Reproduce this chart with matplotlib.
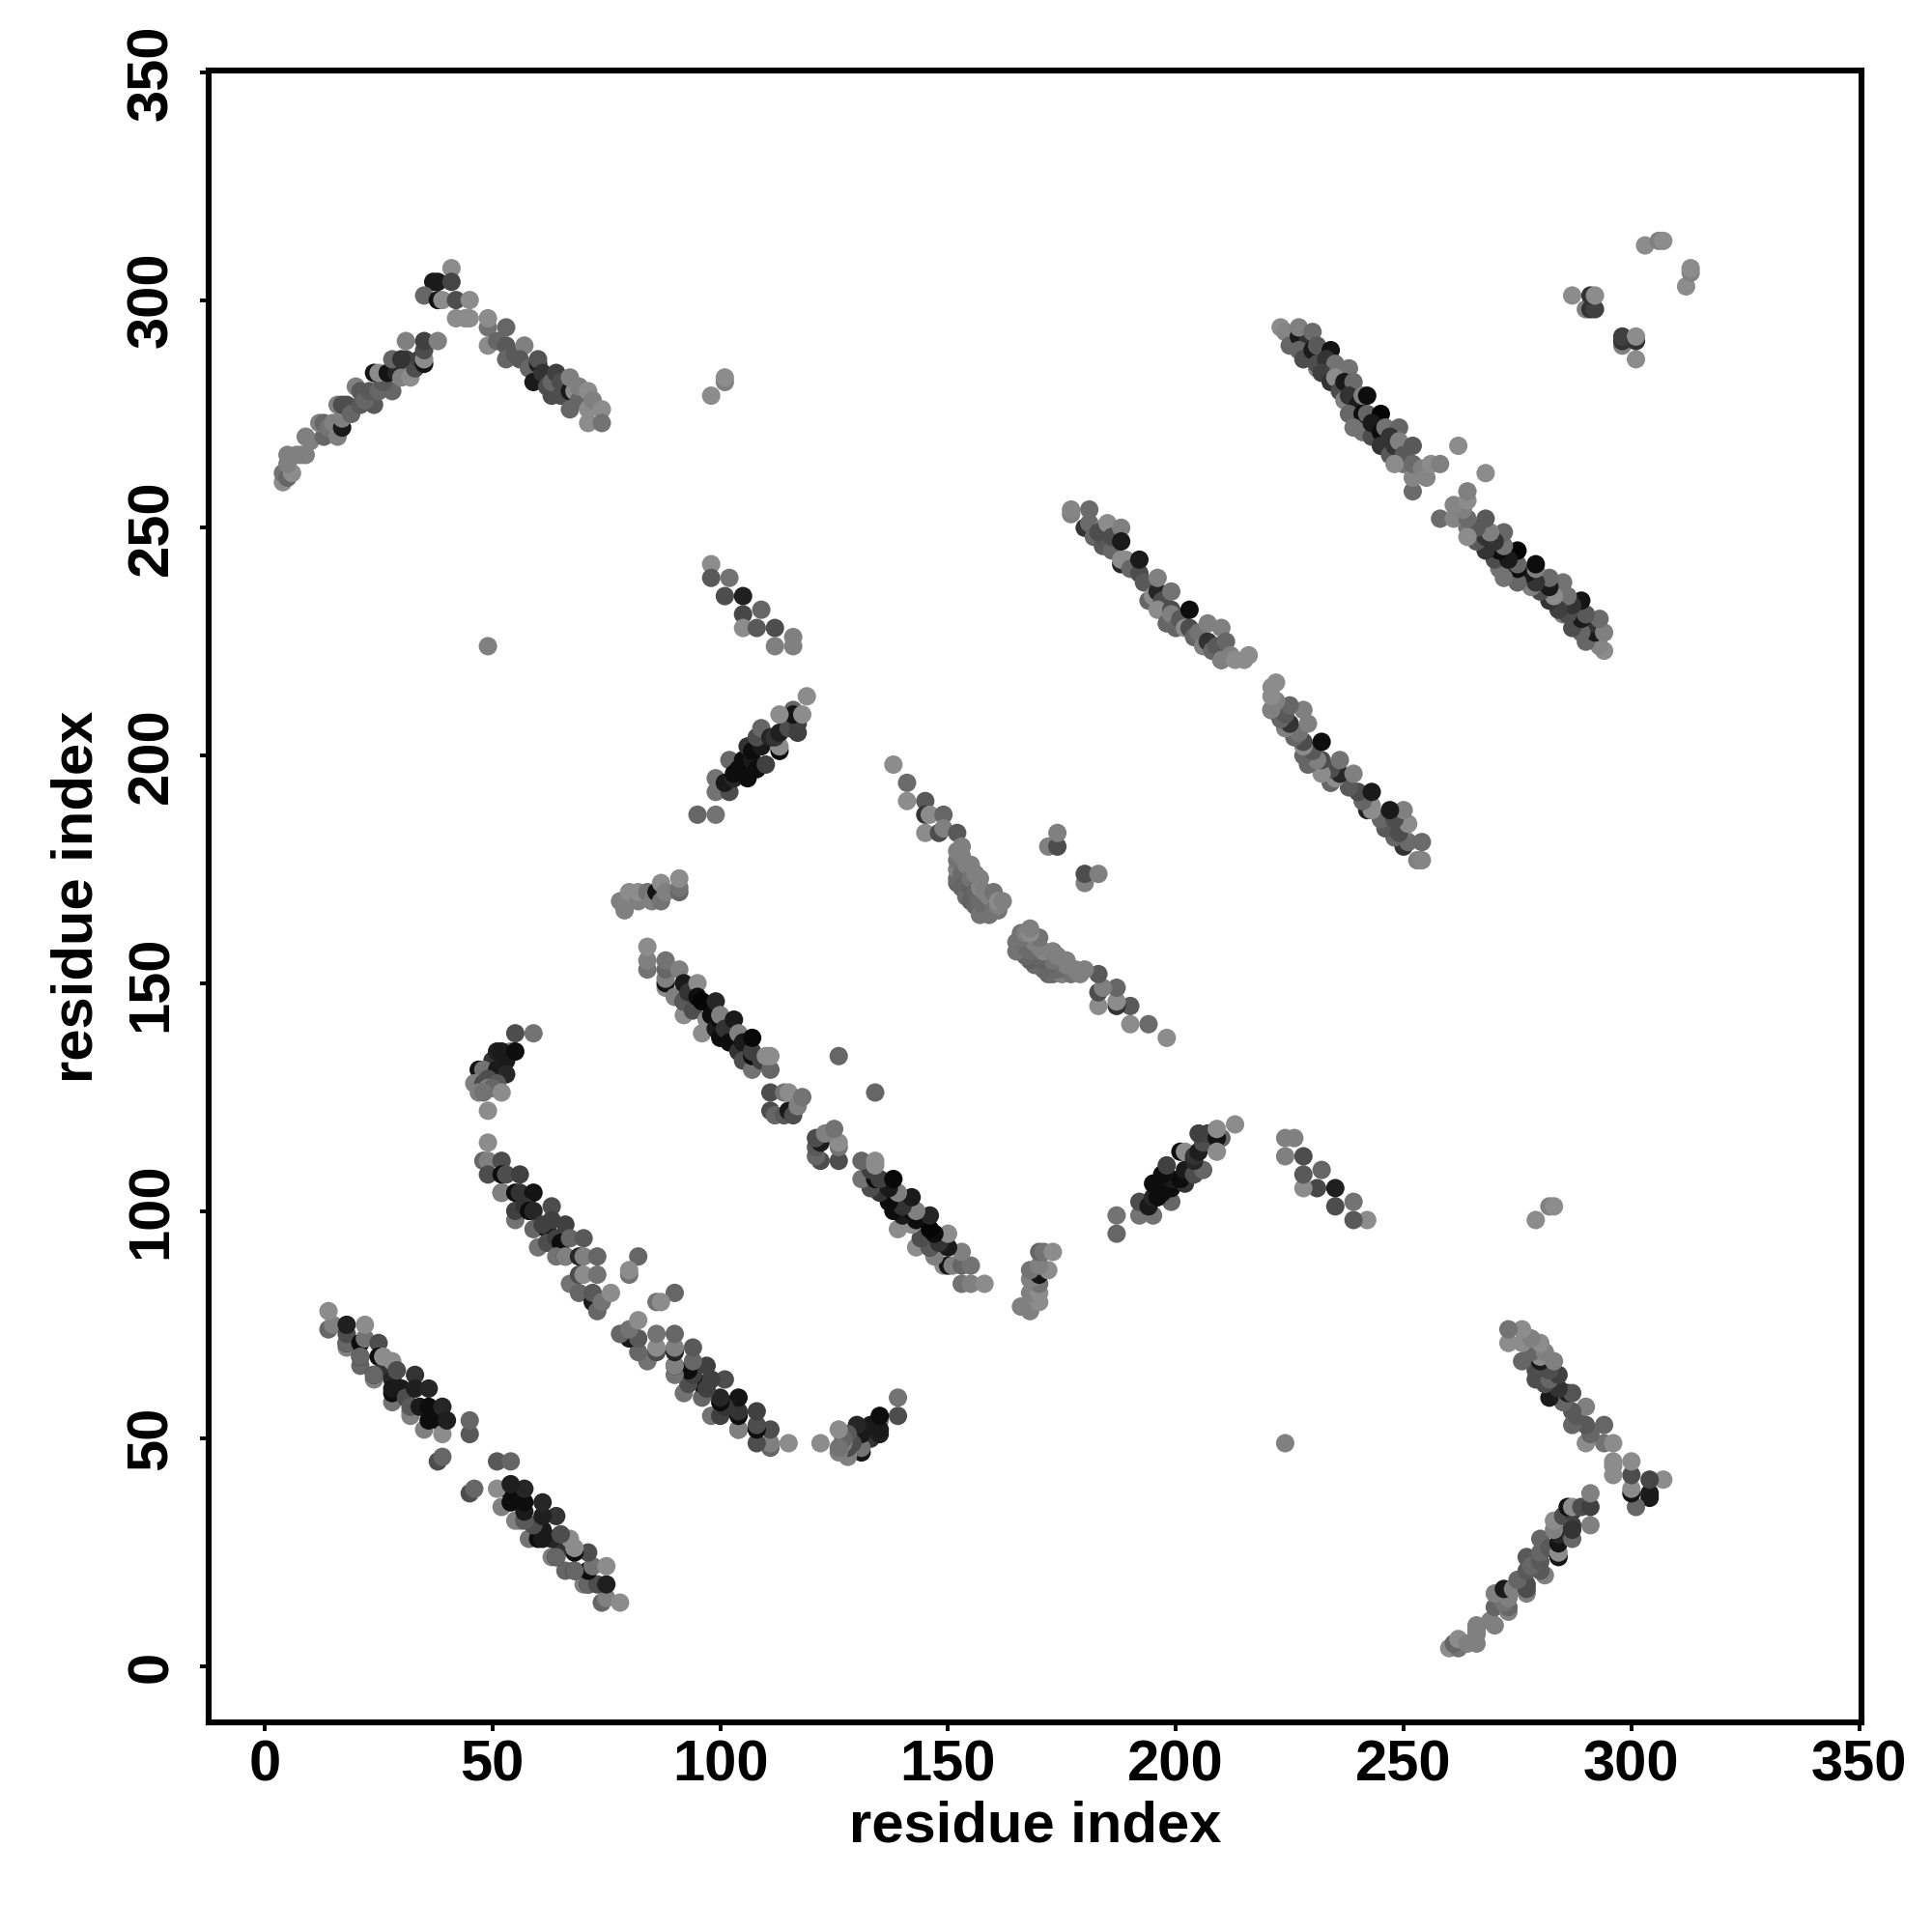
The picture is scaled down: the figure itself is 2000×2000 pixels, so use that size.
import matplotlib
matplotlib.use('Agg')
import matplotlib.pyplot as plt

# contacts as (i, j, grey), only i < j, the map is symmetric
arm_top_left = [
    (41,307,.55),(37,304,.1),(38,304,.1),(41,304,.27),(35,301,.4),(38,300,.08),(39,300,.55),
    (42,300,.3),(45,300,.55),(42,296,.55),(44,296,.55),(45,296,.55),
    (4,260,.55),(4,262,.45),(5,261,.4),(6,262,.55),(5,264,.5),(5,266,.5),(7,266,.5),(8,266,.5),(9,266,.5),
    (9,270,.5),(10,269,.5),(13,270,.4),(12,273,.5),(13,273,.4),(14,272,.45),(15,273,.5),(16,270,.5),
    (17,272,.1),(17,274,.5),(16,277,.5),(17,277,.3),(18,277,.3),(19,275,.4),(21,277,.35),(24,277,.35),
    (20,281,.5),(21,280,.35),(22,278,.4),(23,280,.35),(25,280,.4),(28,280,.4),(26,282,.35),
    (24,284,.08),(25,284,.55),(27,284,.08),(29,284,.15),(30,283,.5),(28,287,.4),(32,283,.55),(31,287,.25),
    (33,285,.3),(30,287,.2),(34,287,.25),
    (35,286,.08),(35,287,.55),(35,289,.3),(31,291,.5),(35,291,.25),(38,291,.5),
]
arm_top_right = [
    (49,294,.45),(49,296,.55),(49,290,.55),(51,291,.4),(53,294,.4),(53,290,.35),(53,287,.4),(55,288,.35),
    (57,290,.5),(56,287,.35),(58,285,.4),(59,282,.1),(60,286,.12),(60,287,.33),(61,284,.2),(62,281,.3),
    (63,279,.3),(63,282,.4),(64,284,.25),(65,282,.3),(65,279,.3),(67,280,.1),(68,280,.55),(69,278,.4),
    (69,281,.5),(67,283,.5),(67,276,.4),(71,280,.55),(71,276,.55),(72,278,.5),(74,276,.55),(71,273,.55),(74,273,.45),
]
strip_50_130 = [
    (55,139,.3),(59,139,.45),(54,135,.5),(50,133,.2),(53,133,.1),(51,135,.12),(52,135,.1),(55,135,.05),(47,131,.5),
    (47,131,.08),(48,131,.45),(51,131,.1),(52,131,.1),(53,130,.15),(46,128,.5),(48,128,.3),(49,129,.3),(51,128,.35),
    (47,126,.5),(49,127,.5),(50,127,.4),(48,126,.45),(52,126,.55),(49,122,.55),
]
strip_50_110 = [
    (49,115,.55),(48,111,.4),(49,111,.5),(52,111,.3),(49,108,.3),(52,108,.05),(53,108,.3),(56,108,.25),
    (52,104,.05),(52,104,.5),(55,104,.05),(56,104,.2),(59,104,.08),(55,98,.45),(55,100,.25),(57,101,.2),(58,100,.05),
    (59,100,.15),(63,101,.3),(59,96,.4),(62,96,.05),(61,97,.25),(63,98,.25),(66,97,.25),(60,92,.45),(62,93,.3),
    (64,94,.25),(65,91,.3),(65,93,.05),(67,94,.4),(70,94,.35),(64,90,.45),
    (66,90,.05),(66,90,.5),(69,90,.15),(70,90,.5),(73,90,.4),(67,84,.45),(69,86,.3),(70,86,.55),(73,86,.45),
    (69,82,.4),(72,80,.1),(72,82,.35),(73,78,.4),(74,80,.45),(76,82,.55),
    (82,90,.4),(80,86,.45),(80,87,.55),
]
strip_14_76 = [
    (14,74,.4),(15,75,.5),(14,78,.55),(18,70,.5),(18,71,.05),(18,71,.4),(18,73,.3),(18,75,.12),(21,66,.4),(21,71,.05),
    (22,72,.45),(22,75,.55),(25,71,.3),(21,68,.05),(21,68,.4),(25,68,.05),(26,65,.2),(26,68,.55),(28,67,.55),
    (24,63,.5),(24,64,.05),(24,64,.4),(28,63,.15),(29,65,.3),(33,64,.2),(28,58,.45),(28,60,.05),(28,61,.1),(30,61,.1),
    (31,59,.3),(33,61,.12),(36,61,.15),(32,55,.5),(32,56,.5),(32,57,.35),(34,57,.1),
    (35,52,.5),(36,57,.05),(37,55,.05),(39,57,.15),(36,54,.05),(39,53,.05),(39,51,.55),(40,54,.12),(45,51,.35),(45,54,.4),
    (38,45,.3),(39,46,.4),
]
strip_84_155 = [
    (84,153,.45),(84,155,.5),(84,158,.55),(88,149,.55),(88,150,.08),(88,151,.5),(88,153,.4),(88,155,.45),
    (90,147,.5),(91,153,.5),(92,143,.55),(92,146,.08),(92,146,.35),(92,150,.1),(93,148,.2),(94,144,.3),(95,150,.55),
    (95,147,.05),(96,139,.55),(96,146,.02),(97,142,.55),(98,143,.05),(99,140,.1),(99,146,.15),(100,138,.05),
    (100,142,.05),(100,143,.5),(101,140,.2),(102,137,.05),(103,142,.1),(104,135,.2),(104,139,.5),(105,137,.1),
    (105,133,.3),(107,131,.45),(107,134,.05),(107,135,.25),(107,138,.03),(109,133,.25),(111,131,.4),(110,134,.55),(111,134,.55),
    (111,122,.3),(111,126,.3),(112,121,.4),(114,121,.35),(115,122,.1),(116,121,.3),(114,126,.45),(115,126,.55),
    (117,123,.5),(118,125,.45),(126,134,.4),
]
patch_80_170 = [
    (78,168,.5),(79,166,.5),(80,170,.55),(82,168,.5),(82,170,.55),(84,170,.45),(85,168,.5),(86,170,.08),
    (87,168,.45),(87,172,.55),(88,170,.5),(91,170,.4),(91,171,.45),(91,173,.55),
]
patch_100_235 = [
    (98,242,.55),(98,239,.35),(102,239,.45),(101,235,.3),(105,235,.12),(105,231,.28),(105,228,.55),
    (109,232,.4),(108,228,.35),(112,228,.3),(112,224,.5),(116,226,.5),(116,224,.5),
]
patch_105_200 = [
    (95,187,.4),(99,187,.45),(99,192,.45),(102,192,.3),(99,195,.45),(101,194,.1),(103,195,.15),(106,195,.05),(102,199,.4),
    (103,196,.05),(104,197,.05),(105,199,.05),(107,199,.1),(108,197,.05),(110,198,.25),(106,202,.2),(107,201,.05),
    (109,202,.1),(113,201,.05),(113,202,.55),(108,204,.3),(109,206,.4),(111,204,.15),(112,204,.2),(113,205,.12),
    (115,206,.3),(117,205,.25),(117,207,.25),(116,210,.4),(116,209,.08),(113,209,.55),(118,209,.55),(119,213,.55),
]
strip_138_198 = [
    (138,198,.55),(141,194,.42),(141,190,.55),(145,190,.35),(145,187,.2),(146,187,.55),(149,187,.4),
    (145,183,.55),(148,183,.3),(149,184,.5),(152,183,.35),(152,172,.4),(152,173,.42),(152,175,.5),(152,177,.45),(152,179,.5),
    (153,174,.42),(153,178,.5),(153,180,.5),(153,171,.4),(154,169,.42),(154,172,.4),(154,176,.5),(155,168,.38),(155,171,.38),
    (155,173,.45),(155,176,.5),(156,167,.4),(156,170,.4),(156,174,.5),(157,165,.45),(157,168,.42),(157,171,.52),(157,173,.5),
    (158,167,.42),(158,170,.5),(159,165,.45),(159,167,.42),(159,169,.5),(160,166,.45),
    (160,170,.45),(161,166,.45),(161,167,.5),(161,168,.55),(162,168,.5),
]
strip_176_253 = [
    (177,253,.5),(177,254,.52),(180,250,.2),(181,251,.42),(181,254,.42),(182,248,.4),(184,250,.5),(184,246,.35),(183,249,.3),
    (185,251,.55),(186,245,.4),(186,248,.3),(188,250,.5),(188,242,.15),(188,243,.55),(188,247,.1),(189,243,.55),
    (190,241,.4),(192,240,.3),(193,238,.35),(192,243,.1),(194,234,.4),
    (195,235,.55),(196,236,.15),(196,239,.5),(197,234,.3),(196,232,.55),(198,229,.4),(199,232,.3),(199,231,.5),(199,236,.45),
    (200,228,.4),(201,230,.35),(202,228,.55),(203,228,.3),(203,232,.05),(204,226,.4),(205,227,.45),(206,224,.5),
    (207,225,.2),(207,229,.5),(208,223,.4),(209,224,.35),(210,221,.1),(210,221,.5),
    (210,228,.5),(211,225,.4),(212,222,.5),(213,221,.55),(215,221,.55),(216,222,.55),
]
strip_223_294 = [
    (223,294,.55),(224,293,.52),(225,290,.4),(227,292,.1),(229,291,.2),(227,294,.5),(230,293,.42),(227,289,.4),(228,287,.3),
    (230,289,.1),(231,290,.35),(234,289,.08),(231,285,.5),(231,286,.3),(233,287,.2),(235,286,.45),(238,285,.45),
    (232,284,.25),(234,282,.2),(235,283,.55),(236,280,.3),(237,282,.1),
    (239,282,.42),(237,278,.5),(238,279,.2),(240,277,.1),(241,279,.5),(242,279,.05),(238,275,.4),(241,275,.05),(242,275,.4),
    (245,275,.02),(239,272,.45),(241,271,.45),(243,270,.3),(243,273,.1),(245,271,.05),(246,272,.45),(249,272,.4),
    (245,268,.2),(247,266,.35),(247,270,.2),(248,268,.2),(249,269,.5),
    (250,264,.45),(250,266,.35),(252,268,.35),(248,264,.55),(252,258,.42),(252,261,.52),(252,264,.42),(254,263,.5),
    (255,261,.52),(256,264,.55),(258,264,.5),(262,268,.55),
]
small_groups = [
    (49,224,.5),(98,279,.55),(101,282,.5),(101,283,.55),
    (172,180,.5),(174,180,.3),(174,183,.5),
    (287,301,.55),(290,298,.5),(291,298,.2),(292,298,.25),(291,301,.2),(292,301,.55),
    (303,312,.55),(306,313,.5),(307,313,.55),
]

all_groups = [arm_top_left, arm_top_right, strip_50_130, strip_50_110, strip_14_76, strip_84_155,
              patch_80_170, patch_100_235, patch_105_200, strip_138_198, strip_176_253, strip_223_294,
              small_groups]
tick_vals = [0, 50, 100, 150, 200, 250, 300, 350]

plt.rcParams['font.family'] = ['Liberation Sans', 'DejaVu Sans']

fig = plt.figure(figsize=(10, 10), dpi=200)
ax = fig.add_axes([216/2000, 1 - 1783/2000, (1927-216)/2000, (1783-73)/2000])

for group in all_groups:
    i = [p[0] for p in group]
    j = [p[1] for p in group]
    grey = [str(p[2]) for p in group]
    ax.scatter(i + j, j + i, s=47, c=grey + grey, linewidths=0, clip_on=False)

ax.set_xlim(-12.3, 350.5)
ax.set_ylim(-12.3, 350.4)
ax.set_xticks(tick_vals)
ax.set_yticks(tick_vals)
ax.tick_params(length=3.2, width=1.4, labelsize=21.5)
ax.tick_params(axis='x', pad=3)
ax.tick_params(axis='y', pad=8)
for lab in ax.get_xticklabels():
    lab.set_fontweight('bold')
for lab in ax.get_yticklabels():
    lab.set_fontweight('bold')
    lab.set_rotation(90)
    lab.set_va('center')
for s in ax.spines.values():
    s.set_linewidth(2.2)

ax.set_xlabel('residue index', fontsize=21.5, fontweight='bold', va='center')
ax.set_ylabel('residue index', fontsize=21.5, fontweight='bold', va='center')
ax.xaxis.set_label_coords(0.5, -0.063)
ax.yaxis.set_label_coords(-0.0795, 0.5)

plt.savefig('out.png', dpi=200)
